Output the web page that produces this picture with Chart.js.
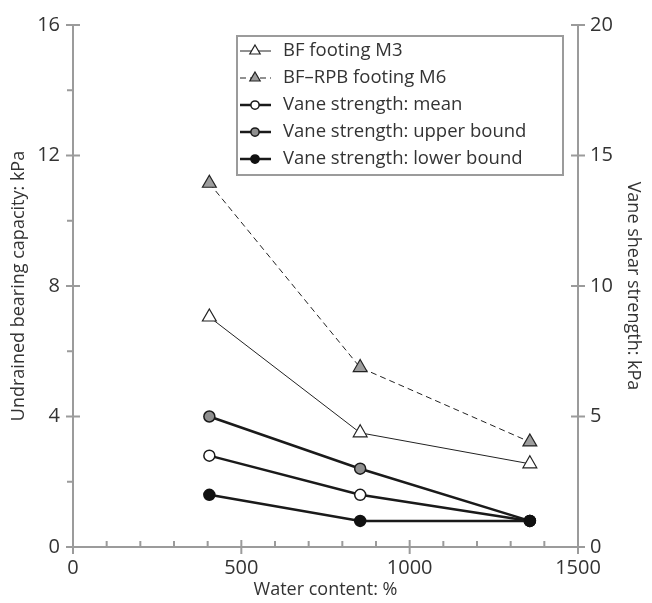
<!DOCTYPE html>
<html>
<head>
<meta charset="utf-8">
<script src="https://cdn.jsdelivr.net/npm/chart.js@4/dist/chart.umd.min.js"></script>
<style>
  html, body { margin: 0; padding: 0; background: #fff; }
  #wrap { width: 652px; height: 603px; }
</style>
</head>
<body>
<div id="wrap"><canvas id="chart"></canvas></div>
<script>
// Water content (%) at each test
const waterContent = [405, 853, 1357];

// Undrained bearing capacity: kPa (left axis)
const bfFootingM3 = [7.05, 3.5, 2.55];
const bfRpbFootingM6 = [11.15, 5.5, 3.22];

// Vane shear strength: kPa (right axis)
const vaneMean = [3.5, 2.0, 1.0];
const vaneUpper = [5.0, 3.0, 1.0];
const vaneLower = [2.0, 1.0, 1.0];

// Axis ticks
const xMajorTicks = [0, 500, 1000, 1500];
const xMinorTicks = [100, 200, 300, 400, 600, 700, 800, 900, 1100, 1200, 1300, 1400];
const leftMajorTicks = [0, 4, 8, 12, 16];
const leftMinorTicks = [2, 6, 10, 14];
const rightMajorTicks = [0, 5, 10, 15, 20];

const AXIS = "#9b9b9b";
const TEXT = "#333333";
const FONT = "'Open Sans', 'Noto Sans', sans-serif";

const toPoints = (ys) => waterContent.map((x, i) => ({ x: x, y: ys[i] }));

// Draw tick marks through the chart's own scales
const tickMarks = {
  id: "tickMarks",
  afterDraw(chart) {
    const { ctx, scales } = chart;
    const xs = scales.x, yl = scales.y, yr = scales.y2;
    ctx.save();
    ctx.strokeStyle = AXIS;
    ctx.lineWidth = 2;
    ctx.beginPath();
    xMajorTicks.forEach((v) => {
      const px = xs.getPixelForValue(v);
      ctx.moveTo(px, xs.top - 7);
      ctx.lineTo(px, xs.top + 7);
    });
    xMinorTicks.forEach((v) => {
      const px = xs.getPixelForValue(v);
      ctx.moveTo(px, xs.top - 6);
      ctx.lineTo(px, xs.top);
    });
    leftMajorTicks.forEach((v) => {
      const py = yl.getPixelForValue(v);
      ctx.moveTo(yl.right - 7, py);
      ctx.lineTo(yl.right + 7, py);
    });
    leftMinorTicks.forEach((v) => {
      const py = yl.getPixelForValue(v);
      ctx.moveTo(yl.right - 6, py);
      ctx.lineTo(yl.right, py);
    });
    rightMajorTicks.forEach((v) => {
      const py = yr.getPixelForValue(v);
      ctx.moveTo(yr.left - 7, py);
      ctx.lineTo(yr.left + 7, py);
    });
    ctx.stroke();
    ctx.restore();
  },
};

// Boxed legend drawn inside the plot, built from the datasets
const boxLegend = {
  id: "boxLegend",
  afterDraw(chart) {
    const ctx = chart.ctx;
    const left = 237, top = 36, width = 326, height = 139;
    ctx.save();
    ctx.fillStyle = "#fff";
    ctx.fillRect(left, top, width, height);
    ctx.strokeStyle = AXIS;
    ctx.lineWidth = 2;
    ctx.strokeRect(left, top, width, height);
    ctx.font = "18.5px " + FONT;
    ctx.textBaseline = "middle";
    chart.data.datasets.forEach((ds, i) => {
      const y = top + 15 + i * 27;
      ctx.save();
      ctx.strokeStyle = ds.borderColor;
      ctx.lineWidth = ds.borderWidth;
      ctx.setLineDash(ds.borderDash || []);
      ctx.beginPath();
      ctx.moveTo(left + 3, y);
      ctx.lineTo(left + 34, y);
      ctx.stroke();
      ctx.setLineDash([]);
      ctx.fillStyle = ds.pointBackgroundColor;
      ctx.strokeStyle = ds.pointBorderColor;
      ctx.lineWidth = ds.pointBorderWidth;
      Chart.helpers.drawPoint(ctx, {
        pointStyle: ds.pointStyle,
        radius: ds.pointRadius * 0.75,
        borderWidth: ds.pointBorderWidth,
        rotation: 0,
      }, left + 18, y);
      ctx.restore();
      ctx.fillStyle = TEXT;
      ctx.fillText(ds.label, left + 46, y);
    });
    ctx.restore();
  },
};

new Chart(document.getElementById("chart"), {
  type: "line",
  data: {
    datasets: [
      {
        label: "BF footing M3",
        data: toPoints(bfFootingM3),
        yAxisID: "y",
        order: 3,
        borderColor: "#222",
        borderWidth: 1,
        pointStyle: "triangle",
        pointRadius: 8,
        pointBackgroundColor: "#fff",
        pointBorderColor: "#222",
        pointBorderWidth: 1.2,
      },
      {
        label: "BF\u2013RPB footing M6",
        data: toPoints(bfRpbFootingM6),
        yAxisID: "y",
        order: 4,
        borderColor: "#222",
        borderWidth: 1,
        borderDash: [6, 4],
        pointStyle: "triangle",
        pointRadius: 8,
        pointBackgroundColor: "#9d9d9d",
        pointBorderColor: "#222",
        pointBorderWidth: 1.2,
      },
      {
        label: "Vane strength: mean",
        data: toPoints(vaneMean),
        yAxisID: "y2",
        order: 2,
        borderColor: "#1a1a1a",
        borderWidth: 2.5,
        pointStyle: "circle",
        pointRadius: 5.5,
        pointBackgroundColor: "#fff",
        pointBorderColor: "#1a1a1a",
        pointBorderWidth: 1.5,
      },
      {
        label: "Vane strength: upper bound",
        data: toPoints(vaneUpper),
        yAxisID: "y2",
        order: 1,
        borderColor: "#1a1a1a",
        borderWidth: 2.5,
        pointStyle: "circle",
        pointRadius: 5.5,
        pointBackgroundColor: "#8f8f8f",
        pointBorderColor: "#1a1a1a",
        pointBorderWidth: 1.5,
      },
      {
        label: "Vane strength: lower bound",
        data: toPoints(vaneLower),
        yAxisID: "y2",
        order: 0,
        borderColor: "#1a1a1a",
        borderWidth: 2.5,
        pointStyle: "circle",
        pointRadius: 5.5,
        pointBackgroundColor: "#111",
        pointBorderColor: "#111",
        pointBorderWidth: 1.5,
      },
    ],
  },
  options: {
    responsive: true,
    maintainAspectRatio: false,
    animation: false,
    layout: { padding: { top: 23, right: 0, left: 0, bottom: 0 } },
    plugins: {
      legend: { display: false },
      tooltip: { enabled: false },
    },
    scales: {
      x: {
        type: "linear",
        min: 0,
        max: 1500,
        afterBuildTicks: (s) => { s.ticks = xMajorTicks.map((v) => ({ value: v })); },
        afterFit: (s) => { s.height = 56; },
        grid: { drawOnChartArea: false, drawTicks: false },
        border: { color: AXIS, width: 2 },
        ticks: {
          color: TEXT,
          padding: 9,
          font: { family: FONT, size: 20 },
          callback: (v) => String(v),
        },
        title: {
          display: true,
          text: "Water content: %",
          color: TEXT,
          padding: { top: 0, bottom: 2 },
          font: { family: FONT, size: 18 },
        },
      },
      y: {
        position: "left",
        min: 0,
        max: 16,
        afterBuildTicks: (s) => { s.ticks = leftMajorTicks.map((v) => ({ value: v })); },
        afterFit: (s) => { s.width = 73; },
        grid: { drawOnChartArea: false, drawTicks: false },
        border: { color: AXIS, width: 2 },
        ticks: { color: TEXT, padding: 13, font: { family: FONT, size: 20 } },
        title: {
          display: true,
          text: "Undrained bearing capacity: kPa",
          color: TEXT,
          padding: { top: 8, bottom: 0 },
          font: { family: FONT, size: 18 },
        },
      },
      y2: {
        position: "right",
        min: 0,
        max: 20,
        afterBuildTicks: (s) => { s.ticks = rightMajorTicks.map((v) => ({ value: v })); },
        afterFit: (s) => { s.width = 74; },
        grid: { drawOnChartArea: false, drawTicks: false },
        border: { color: AXIS, width: 2 },
        ticks: { color: TEXT, padding: 12, font: { family: FONT, size: 20 } },
        title: {
          display: true,
          text: "Vane shear strength: kPa",
          color: TEXT,
          padding: { top: 8, bottom: 0 },
          font: { family: FONT, size: 18 },
        },
      },
    },
  },
  plugins: [tickMarks, boxLegend],
});
</script>
</body>
</html>
